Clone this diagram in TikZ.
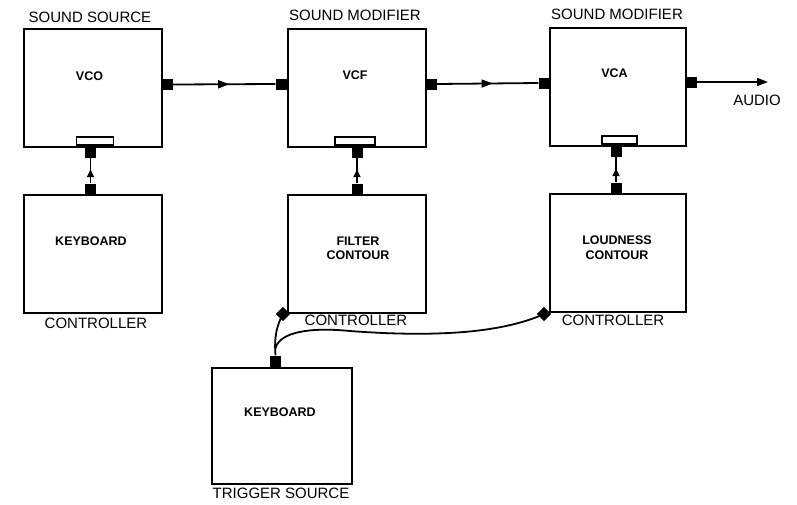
\documentclass[tikz,border=0pt]{standalone}
\usepackage{fontspec}
\setmainfont{Liberation Sans}
\usetikzlibrary{arrows.meta,decorations.markings}
\begin{document}
\begin{tikzpicture}[x=1pt,y=-1pt,
  blk/.style={draw,line width=2.2pt,minimum width=138pt,minimum height=118pt,inner sep=0pt,anchor=north west},
  intext/.style={font=\bfseries\fontsize{12.5}{14.5}\selectfont,align=center,inner sep=0pt},
  lbl/.style={font=\fontsize{15}{16}\selectfont,inner sep=0pt},
  port/.style={fill=black,minimum size=11pt,inner sep=0pt},
  dotport/.style={fill=black,minimum size=10pt,inner sep=0pt,rotate=45},
  tab/.style={draw,line width=1.9pt,fill=white,minimum width=37pt,minimum height=8pt,inner sep=0pt,anchor=south},
  wire/.style={line width=1.8pt},
  midarrow/.style={postaction={decorate},decoration={markings,mark=at position 0.55 with {\arrow{Triangle[length=11pt,width=8pt]}}}},
  smallarrow/.style={postaction={decorate},decoration={markings,mark=at position 0.55 with {\arrow{Triangle[length=8pt,width=7pt]}}}}
]
\useasboundingbox (0,0) rectangle (797,504);

% top row boxes
\node[blk] (vco) at (23,28) {};
\node[blk] (vcf) at (287,28) {};
\node[blk,minimum width=136pt] (vca) at (549,27) {};
% lower boxes
\node[blk] (kbc) at (23,194) {};
\node[blk] (filt) at (287,194) {};
\node[blk,minimum width=136pt] (loud) at (549,193) {};
\node[blk,minimum width=140pt,minimum height=116pt] (trig) at (211,367) {};

% inner texts
\node[intext] (vcot) at (89.5,76.5) {VCO};
\node[intext] (vcft) at (355,75) {VCF};
\node[intext] (vcat) at (614.5,73) {VCA};
\node[intext] (kbct) at (91,241) {KEYBOARD};
\node[intext] (filtt) at (358,248.5) {FILTER\\CONTOUR};
\node[intext] (loudt) at (617,247.5) {LOUDNESS\\CONTOUR};
\node[intext] (trigt) at (280,412) {KEYBOARD};

% labels
\node[lbl] (l1) at (90,17) {SOUND SOURCE};
\node[lbl] (l2) at (355,15) {SOUND MODIFIER};
\node[lbl] (l3) at (617,14) {SOUND MODIFIER};
\node[lbl] (c1) at (96,323) {CONTROLLER};
\node[lbl] (c2) at (356,320) {CONTROLLER};
\node[lbl] (c3) at (613,320) {CONTROLLER};
\node[lbl] (ts) at (281,493) {TRIGGER SOURCE};
\node[lbl] (audio) at (757,100) {AUDIO};

% tabs on bottom of top boxes
\node[tab] (vcotab) at (95,146) {};
\node[tab,minimum width=40pt] (vcftab) at (355,146) {};
\node[tab,minimum width=35pt] (vcatab) at (619.5,145) {};

% signal ports
\node[port] (vcoout) at (167,84.5) {};
\node[port] (vcfin) at (281,84) {};
\node[port] (vcfout) at (431,84) {};
\node[port] (vcain) at (544,83) {};
\node[port] (vcaout) at (691,82) {};
\coordinate (audioend) at (768,82);

% control ports
\node[port] (vcoc) at (90.5,152) {};
\node[port] (kbcc) at (90.5,189) {};
\node[port] (vcfc) at (357,152) {};
\node[port] (filtc) at (357,189) {};
\node[port] (vcac) at (616,151) {};
\node[port] (loudc) at (616,188) {};

% trigger ports
\node[port] (trigp) at (275.5,361) {};
\node[dotport] (filtd) at (283,314) {};
\node[dotport] (loudd) at (544,314) {};

% signal path
\draw[wire,midarrow] (vcoout.east) -- (vcfin.west);
\draw[wire,midarrow] (vcfout.east) -- (vcain.west);
\draw[wire,-{Triangle[length=11pt,width=8pt]}] (vcaout.east) -- (audioend);

% control connections
\draw[wire,smallarrow] (kbcc.north) -- (vcoc.south);
\draw[wire,smallarrow] (filtc.north) -- (vcfc.south);
\draw[wire,smallarrow] (loudc.north) -- (vcac.south);

% trigger connections
\draw[wire] (trigp.north) .. controls (274,336) and (277,325) .. (filtd.center);
\coordinate (branch) at (275.5,348);
\draw[wire] (branch) .. controls (280,332) and (310,327) .. (350,331)
  .. controls (430,337) and (500,334) .. (loudd.center);
\end{tikzpicture}
\end{document}
